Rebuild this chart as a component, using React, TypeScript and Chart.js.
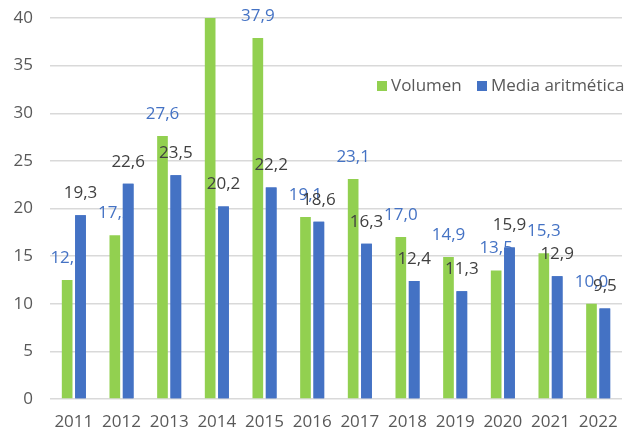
import React, { useEffect, useRef } from "react";
import { Chart, registerables } from "chart.js";

Chart.register(...registerables);

const categories = ["2011", "2012", "2013", "2014", "2015", "2016", "2017", "2018", "2019", "2020", "2021", "2022"];
const volumen = [12.5, 17.2, 27.6, 42.0, 37.9, 19.1, 23.1, 17.0, 14.9, 13.5, 15.3, 10.0];
const media = [19.3, 22.6, 23.5, 20.2, 22.2, 18.6, 16.3, 12.4, 11.3, 15.9, 12.9, 9.5];
const seriesNames = ["Volumen", "Media aritmética"];

const GREEN = "#92D050";
const BLUE = "#4472C4";
const FONT = "'Open Sans', 'Noto Sans', sans-serif";
const Y_MAX = 40;

const fmt = (v: number) => v.toFixed(1).replace(".", ",");

const labelPlugin = {
  id: "labelsAndLegend",
  afterDatasetsDraw(chart: any) {
    const ctx = chart.ctx;
    const area = chart.chartArea;
    const drawLabels = (di: number, color: string) => {
      const meta = chart.getDatasetMeta(di);
      const data = chart.data.datasets[di].data as number[];
      ctx.save();
      ctx.font = `17px ${FONT}`;
      ctx.fillStyle = color;
      ctx.textAlign = "center";
      ctx.textBaseline = "middle";
      meta.data.forEach((el: any, i: number) => {
        if (data[i] > Y_MAX) return;
        ctx.fillText(fmt(data[i]), el.x, el.y - 22);
      });
      ctx.restore();
    };
    drawLabels(0, BLUE);
    // redraw blue bars on top of green labels
    const meta1 = chart.getDatasetMeta(1);
    ctx.save();
    ctx.beginPath();
    ctx.rect(area.left, area.top, area.right - area.left, area.bottom - area.top);
    ctx.clip();
    meta1.data.forEach((el: any) => el.draw(ctx));
    ctx.restore();
    drawLabels(1, "#404040");

    // legend
    ctx.save();
    ctx.font = `17px ${FONT}`;
    ctx.textBaseline = "middle";
    ctx.textAlign = "left";
    const ly = 86;
    const items = [
      { x: 377, color: GREEN, text: seriesNames[0] },
      { x: 477, color: BLUE, text: seriesNames[1] },
    ];
    items.forEach((it) => {
      ctx.fillStyle = it.color;
      ctx.fillRect(it.x, ly - 5, 10, 10);
      ctx.fillStyle = "#595959";
      ctx.fillText(it.text, it.x + 14, ly);
    });
    ctx.restore();
  },
};

export default function App() {
  const ref = useRef<HTMLCanvasElement>(null);
  useEffect(() => {
    document.body.style.margin = "0";
    const chart = new Chart(ref.current!, {
      type: "bar",
      data: {
        labels: categories,
        datasets: [
          { label: seriesNames[0], data: volumen, backgroundColor: GREEN, categoryPercentage: 0.56, barPercentage: 0.8 },
          { label: seriesNames[1], data: media, backgroundColor: BLUE, categoryPercentage: 0.56, barPercentage: 0.8 },
        ],
      },
      options: {
        responsive: false,
        animation: false,
        layout: { padding: { top: 18, right: 9, left: 0, bottom: 0 } },
        plugins: { legend: { display: false }, tooltip: { enabled: false } },
        scales: {
          x: {
            grid: { display: false },
            border: { display: false },
            ticks: { color: "#595959", font: { family: FONT, size: 17 }, padding: 5, maxRotation: 0 },
            afterFit: (s: any) => { s.height = 33; s.paddingLeft = 0; s.paddingRight = 0; },
          },
          y: {
            min: 0,
            max: Y_MAX,
            grid: { color: "#d9d9d9", lineWidth: 1.5, drawTicks: false },
            border: { display: false },
            ticks: { stepSize: 5, color: "#595959", font: { family: FONT, size: 17 }, padding: 17 },
            afterFit: (s: any) => { s.width = 50; s.paddingTop = 0; s.paddingBottom = 0; },
          },
        },
      },
      plugins: [labelPlugin],
    });
    return () => chart.destroy();
  }, []);
  return (
    <div style={{ width: 631, height: 432 }}>
      <canvas ref={ref} width={631} height={432} />
    </div>
  );
}
